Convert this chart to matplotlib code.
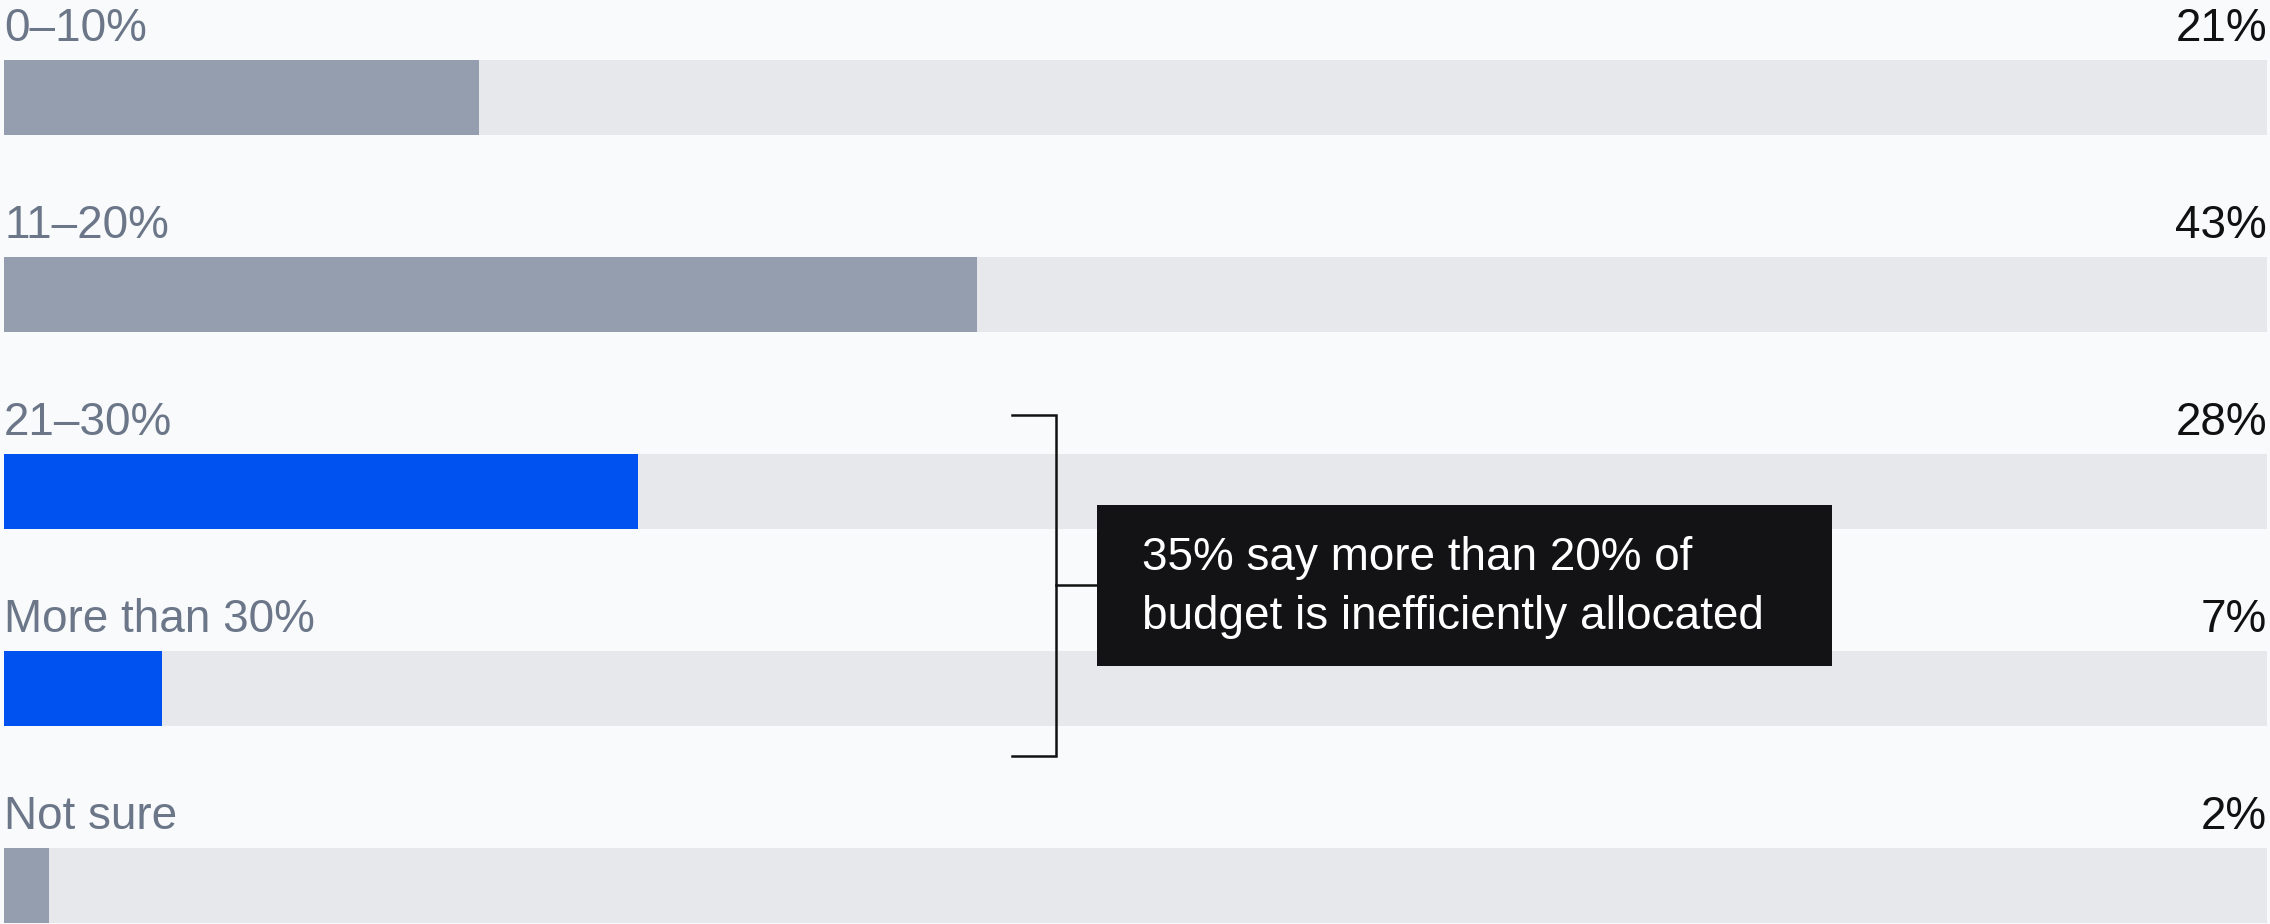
import matplotlib
matplotlib.use("Agg")
import matplotlib.pyplot as plt
from matplotlib.patches import Rectangle

categories = ["0–10%", "11–20%", "21–30%", "More than 30%", "Not sure"]
values = [21, 43, 28, 7, 2]
highlighted = [False, False, True, True, False]
callout = "35% say more than 20% of\nbudget is inefficiently allocated"

BG = "#f9fafc"
TRACK = "#e7e8ec"
GREY = "#959eae"
BLUE = "#0052f0"
LABEL = "#6b7788"

W, H = 2270, 924
PX = 2263 / 100.0  # pixels per percent on the track


def px(x):
    # horizontal pixel position -> data units (track starts at 4 px)
    return (x - 4) / PX


plt.rcParams["font.family"] = ["Liberation Sans", "DejaVu Sans"]

fig = plt.figure(figsize=(W / 100, H / 100), dpi=100, facecolor=BG)
ax = fig.add_axes([0, 0, 1, 1], facecolor=BG)
ax.set_xlim(-4 / PX, 100 + 3 / PX)
ax.set_ylim(H, 0)
ax.axis("off")

bar_h = 75
step = 197
first_top = 60

for i, (cat, val, hi) in enumerate(zip(categories, values, highlighted)):
    top = first_top + i * step
    yc = top + bar_h / 2
    ax.barh(yc, 100, height=bar_h, left=0, color=TRACK, linewidth=0)
    ax.barh(yc, val, height=bar_h, left=0, color=BLUE if hi else GREY, linewidth=0)
    ax.text(0, top - 19, cat, fontsize=33, color=LABEL, ha="left", va="baseline")
    ax.text(100, top - 19, f"{val}%", fontsize=33, color="#111111", ha="right", va="baseline")

# bracket grouping the two highlighted rows
bx0, bx1, bx2 = px(1012), px(1056), px(1098)
by_top, by_bot, by_mid = 415, 756, 585
ax.plot([bx0, bx1, bx1, bx0], [by_top, by_top, by_bot, by_bot], color="#111111", lw=1.8,
        solid_joinstyle="miter")
ax.plot([bx1, bx2], [by_mid, by_mid], color="#111111", lw=1.8)

# callout box
box_x0, box_x1 = px(1097), px(1832)
box_top, box_bot = 505, 666
ax.add_patch(Rectangle((box_x0, box_top), box_x1 - box_x0, box_bot - box_top,
                       facecolor="#131315", edgecolor="none", zorder=3))
ax.text(px(1142), (box_top + box_bot) / 2 + 2, callout, fontsize=33, color="white",
        ha="left", va="center", linespacing=1.45, zorder=4)

fig.savefig("out.png", dpi=100, facecolor=BG)
